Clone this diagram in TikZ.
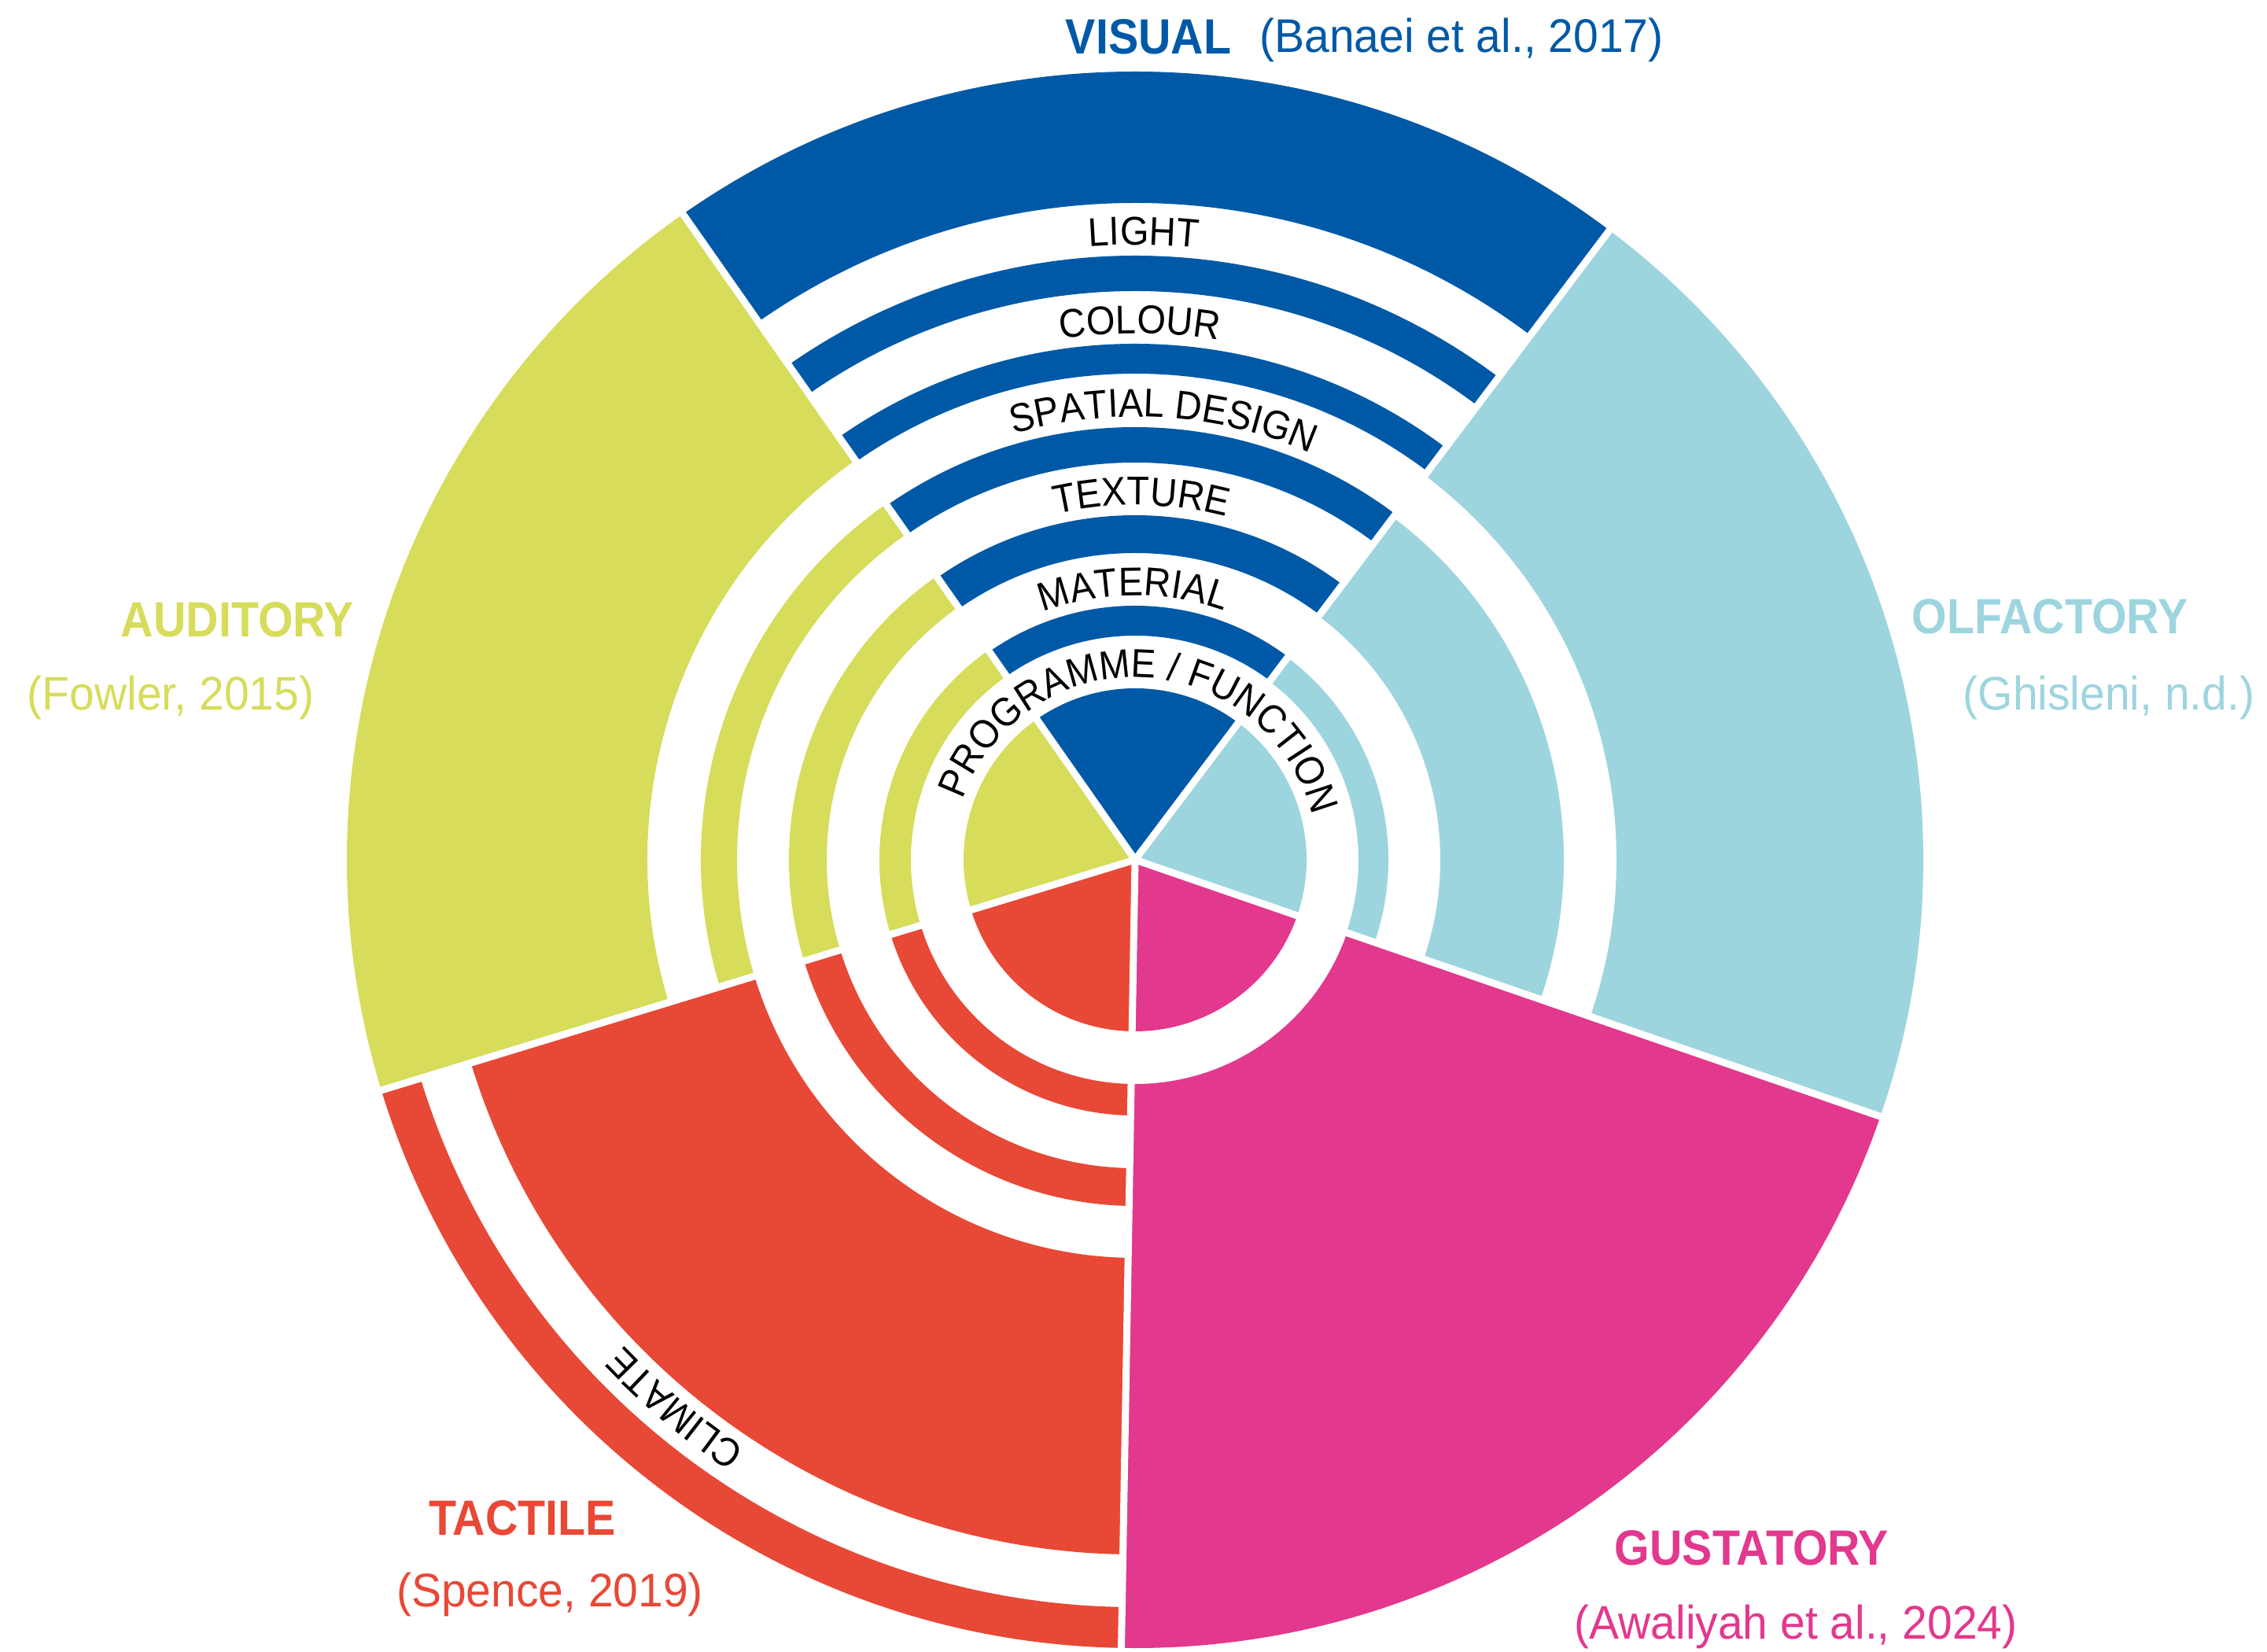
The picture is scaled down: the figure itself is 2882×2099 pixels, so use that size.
\documentclass[tikz,border=0pt]{standalone}
\usepackage{fontspec}
\usetikzlibrary{decorations.text}
\setmainfont{Liberation Sans}
\newfontfamily\TitleFam[FakeStretch=0.91]{Liberation Sans}
\newfontfamily\CiteFam[FakeStretch=0.95]{Liberation Sans}
\newfontfamily\RingFam[FakeStretch=0.92]{Liberation Sans}
\newcommand{\TitleSize}{\TitleFam\bfseries\fontsize{63}{72}\selectfont}
\newcommand{\CiteSize}{\CiteFam\fontsize{60}{72}\selectfont}
\newcommand{\RingSize}{\RingFam\fontsize{51}{60}\selectfont}
\definecolor{cvis}{RGB}{0,89,166}
\definecolor{colf}{RGB}{157,213,222}
\definecolor{cgus}{RGB}{226,56,141}
\definecolor{ctac}{RGB}{232,72,54}
\definecolor{caud}{RGB}{215,220,90}
% annular sector: colour, start angle, end angle, inner r, outer r
\newcommand{\annsec}[5]{\fill[#1] (#2:#4pt) arc[start angle=#2, end angle=#3, radius=#4pt] -- (#3:#5pt) arc[start angle=#3, end angle=#2, radius=#5pt] -- cycle;}
% pie sector: colour, start angle, end angle, r
\newcommand{\piesec}[4]{\fill[#1] (0pt,0pt) -- (#2:#4pt) arc[start angle=#2, end angle=#3, radius=#4pt] -- cycle;}
% ring label: text, centre angle, baseline radius, half span
\newcommand{\ringlabel}[4]{\path[decorate, decoration={text along path, text align=center, text={|\RingSize|#1}}] ({#2+#4}:#3pt) arc[start angle={#2+#4}, end angle={#2-#4}, radius=#3pt];}
\begin{document}
\begin{tikzpicture}
\useasboundingbox (0pt,0pt) rectangle (2882pt,2099pt);
\begin{scope}[shift={(1443pt,1006pt)}]
  % VISUAL
  \piesec{cvis}{53}{125}{218}
  \annsec{cvis}{53}{125}{285}{323}
  \annsec{cvis}{53}{125}{390}{438}
  \annsec{cvis}{53}{125}{505}{550}
  \annsec{cvis}{53}{125}{618}{656}
  \annsec{cvis}{53}{125}{723}{768}
  \annsec{cvis}{53}{125}{835}{1002}
  % AUDITORY
  \piesec{caud}{125}{197}{218}
  \annsec{caud}{125}{197}{285}{325}
  \annsec{caud}{125}{197}{392}{440}
  \annsec{caud}{125}{197}{506}{552}
  \annsec{caud}{125}{197}{620}{1002}
  % TACTILE
  \piesec{ctac}{197}{269}{218}
  \annsec{ctac}{197}{269}{285}{325}
  \annsec{ctac}{197}{269}{392}{440}
  \annsec{ctac}{197}{269}{506}{883}
  \annsec{ctac}{197}{269}{950}{1002}
  % GUSTATORY
  \piesec{cgus}{269}{341}{218}
  \annsec{cgus}{269}{341}{285}{1002}
  % OLFACTORY
  \piesec{colf}{341}{413}{218}
  \annsec{colf}{341}{413}{284}{322}
  \annsec{colf}{341}{413}{388}{545}
  \annsec{colf}{341}{413}{612}{1002}
  % separators
  \foreach \a in {53,125,197,269,341} \draw[white, line width=9pt] (0pt,0pt) -- (\a:1020pt);
  % ring labels
  \ringlabel{PROGRAMME / FUNCTION}{87.4}{232}{88}
  \ringlabel{MATERIAL}{90.4}{336}{45}
  \ringlabel{TEXTURE}{89}{451}{40}
  \ringlabel{SPATIAL DESIGN}{86.3}{563}{45}
  \ringlabel{COLOUR}{89.5}{669}{30}
  \ringlabel{LIGHT}{89.2}{782}{25}
  \ringlabel{CLIMATE}{230}{897}{30}
\end{scope}
% titles
\node[anchor=base, text=cvis, font=\TitleSize] (tvis) at (1460pt,2030pt) {VISUAL};
\node[anchor=base, text=cvis, font=\CiteSize] (cvisref) at (1858pt,2032pt) {(Banaei et al., 2017)};
\node[anchor=base, text=caud, font=\TitleSize] (taud) at (302pt,1289pt) {AUDITORY};
\node[anchor=base, text=caud, font=\CiteSize] (caudref) at (217pt,1196pt) {(Fowler, 2015)};
\node[anchor=base, text=colf, font=\TitleSize] (tolf) at (2606pt,1293pt) {OLFACTORY};
\node[anchor=base, text=colf, font=\CiteSize] (colfref) at (2681pt,1196pt) {(Ghisleni, n.d.)};
\node[anchor=base, text=ctac, font=\TitleSize] (ttac) at (664pt,148pt) {TACTILE};
\node[anchor=base, text=ctac, font=\CiteSize] (ctacref) at (699pt,57pt) {(Spence, 2019)};
\node[anchor=base, text=cgus, font=\TitleSize] (tgus) at (2227pt,110pt) {GUSTATORY};
\node[anchor=base, text=cgus, font=\CiteSize] (cgusref) at (2283pt,16pt) {(Awaliyah et al., 2024)};
\end{tikzpicture}
\end{document}
